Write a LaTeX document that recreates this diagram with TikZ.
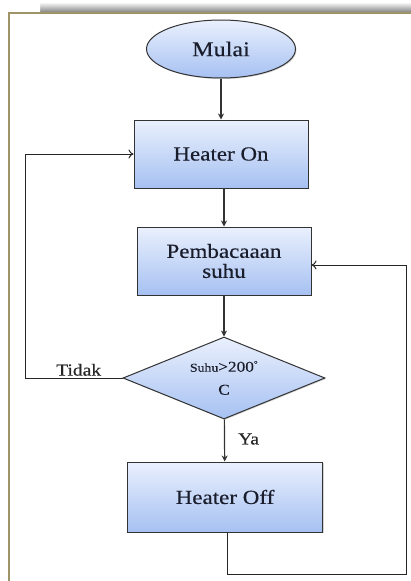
\documentclass[tikz,border=0pt]{standalone}
\usepackage{fontspec}
\setmainfont{Liberation Serif}[FakeStretch=1.15,FakeBold=0.4]
\usetikzlibrary{shapes.geometric,arrows.meta,shadows}
\definecolor{frameol}{HTML}{9E9467}
\definecolor{boxtop}{HTML}{EAF0FD}
\definecolor{boxbot}{HTML}{A6C1F2}
\definecolor{ink}{HTML}{1A1E2C}
\tikzset{
  fc/.style={draw=black!80, line width=1pt, top color=boxtop, bottom color=boxbot,
             drop shadow={shadow xshift=1pt, shadow yshift=-1pt, opacity=0.35},
             text=ink, align=center, font=\fontsize{20}{22}\selectfont},
  procbox/.style={fc, rectangle, minimum width=174pt, minimum height=68pt, inner sep=0pt},
  startell/.style={fc, ellipse, minimum width=149pt, minimum height=58pt, inner sep=0pt},
  decide/.style={fc, diamond, minimum width=202pt, minimum height=82pt, inner sep=0pt, aspect=2.5},
  flow/.style={draw=black!80, line width=1.2pt, -{Stealth[length=6pt,width=6pt]}},
  back/.style={draw=black!85, line width=1pt, -{To[length=5pt,width=9pt]}},
  lbl/.style={text=black!85, font=\fontsize{17}{19}\selectfont, inner sep=0pt}
}
\begin{document}
\begin{tikzpicture}[x=1pt,y=-1pt]
\useasboundingbox (0,0) rectangle (411,581);
% shadow strip above frame
\shade[top color=white, bottom color=black!45] (14,2) rectangle (411,11.5);
\shade[left color=white, right color=white!0, opacity=1] (8,2) rectangle (40,11.5);
\draw[frameol, line width=2pt] (9,581) -- (9,13) -- (411,13);

\node[startell, font=\fontsize{21}{23}\selectfont] (start) at (221,49) {Mulai};
\node[procbox] (on) at (221,154) {Heater On};
\node[procbox] (read) at (224,261) {Pembacaaan\\[-2pt] suhu};
\node[decide] (dec) at (224,378)
  {{\fontsize{12}{13}\selectfont Suhu}{\fontsize{15}{16}\selectfont >200\textsuperscript{\fontsize{8}{8}\selectfont\textdegree}}\\[1pt]{\fontsize{15}{16}\selectfont C}};
\node[procbox, minimum width=195pt, minimum height=70pt] (off) at (225,497) {Heater Off};

\coordinate (lt) at (25,378);
\coordinate (lb) at (25,154);
\coordinate (ra) at (227,574);
\coordinate (rb) at (406,574);
\coordinate (rc) at (406,265);

\draw[flow] (start) -- (on);
\draw[flow] (on.south -| read.north) -- (read);
\draw[flow] (read) -- (dec);
\draw[flow] (dec) -- (off);
\draw[back] (dec.west) -- (lt) -- (lb) -- (on.west);
\draw[back, -] (off.south -| ra) -- (ra) -- (rb) -- (rc);
\draw[back] (rc) -- (read.east |- rc);

\node[lbl, anchor=south west] (tidak) at (56,376) {Tidak};
\node[lbl, anchor=west] (ya) at (238,439) {Ya};
\end{tikzpicture}
\end{document}
